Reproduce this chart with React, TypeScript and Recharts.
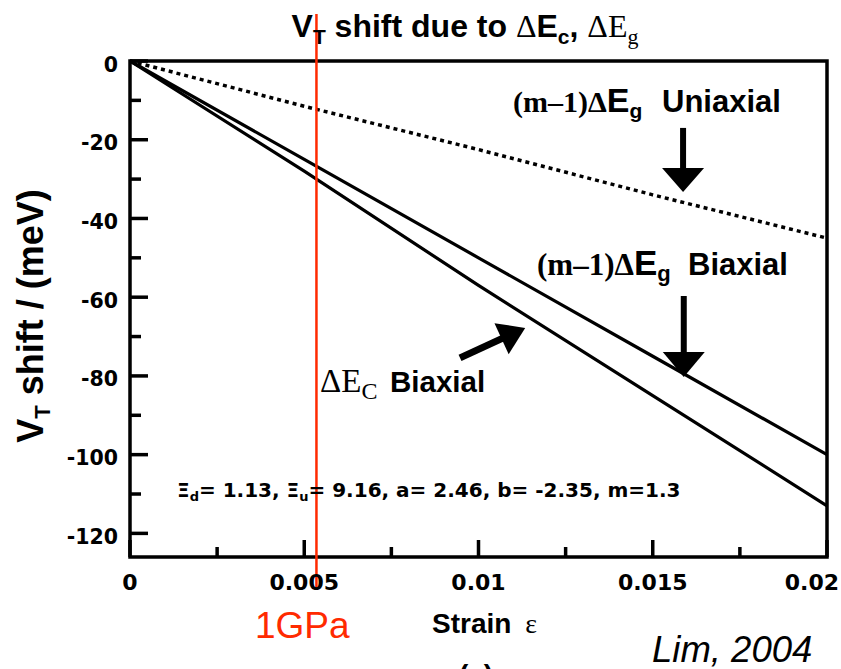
import React from 'react';
import { LineChart, Line, XAxis, YAxis, ReferenceArea, ReferenceLine } from 'recharts';

// ---- data ----
const strain = [0, 0.005, 0.01, 0.015, 0.02];
const uniaxialEg = [0, -11.5, -22.5, -34, -45];
const biaxialEg = [0, -25, -50, -75, -100];
const biaxialEc = [0, -28, -57, -85, -113];

const xTicks = [0, 0.0025, 0.005, 0.0075, 0.01, 0.0125, 0.015, 0.0175, 0.02];
const xMajor = [0, 0.005, 0.01, 0.015, 0.02];
const xMajorLabels = ['0', '0.005', '0.01', '0.015', '0.02'];
const yTicks = [0, -10, -20, -30, -40, -50, -60, -70, -80, -90, -100, -110, -120];
const yMajor = [0, -20, -40, -60, -80, -100, -120];
const yMajorLabels = ['0', '-20', '-40', '-60', '-80', '-100', '-120'];

const strain1GPa = 0.00535;

// arrow annotations in data coordinates: [x1, y1, x2(tip), y2(tip)]
const arrowUni = [0.01587, -17, 0.01587, -33.3];
const arrowEg = [0.01589, -59.7, 0.01589, -80.3];
const arrowEc = [0.00947, -75.4, 0.01134, -67.8];

const rows = strain.map((s, i) => ({
  strain: s,
  uni: uniaxialEg[i],
  eg: biaxialEg[i],
  ec: biaxialEc[i],
}));

const TICK_FONT = '"DejaVu Sans", sans-serif';
const SANS = '"Liberation Sans", Arial, sans-serif';
const SERIF = '"Liberation Serif", "Times New Roman", serif';

const isIn = (arr: number[], v: number) => arr.findIndex((a) => Math.abs(a - v) < 1e-9);

const XTick = (props: any) => {
  const { x, y, payload } = props;
  const idx = isIn(xMajor, payload.value);
  const len = idx >= 0 ? 17 : 10;
  const last = idx === xMajor.length - 1;
  return (
    <g>
      <line x1={x} x2={x} y1={y} y2={y - len} stroke="#000" strokeWidth={3.5} />
      {idx >= 0 && (
        <text
          x={last ? x + 12 : x}
          y={y + 33}
          textAnchor={last ? 'end' : 'middle'}
          fontFamily={TICK_FONT}
          fontWeight="bold"
          fontSize={22}
          fill="#000"
        >
          {xMajorLabels[idx]}
        </text>
      )}
    </g>
  );
};

const YTick = (props: any) => {
  const { x, y, payload } = props;
  const idx = isIn(yMajor, payload.value);
  const len = idx >= 0 ? 18 : 11;
  return (
    <g>
      <line x1={x} x2={x + len} y1={y} y2={y} stroke="#000" strokeWidth={3.5} />
      {idx >= 0 && (
        <text x={x - 12} y={y + 10.5} textAnchor="end" fontFamily={TICK_FONT} fontWeight="bold" fontSize={20.5} fill="#000">
          {yMajorLabels[idx]}
        </text>
      )}
    </g>
  );
};

const makeArrow = (head: number, width: number, shaft: number) => (props: any) => {
  const { x1, y1, x2, y2 } = props;
  const dx = x2 - x1;
  const dy = y2 - y1;
  const len = Math.hypot(dx, dy) || 1;
  const ux = dx / len;
  const uy = dy / len;
  const bx = x2 - ux * head;
  const by = y2 - uy * head;
  const px = (-uy * width) / 2;
  const py = (ux * width) / 2;
  return (
    <g>
      <line x1={x1} y1={y1} x2={bx + ux * 2} y2={by + uy * 2} stroke="#000" strokeWidth={shaft} />
      <polygon points={`${x2},${y2} ${bx + px},${by + py} ${bx - px},${by - py}`} fill="#000" />
    </g>
  );
};

const RedLine = (props: any) => (
  <line x1={props.x1} x2={props.x2} y1={14} y2={590} stroke="#ff2a00" strokeWidth={2.5} />
);

export default function App() {
  return (
    <div style={{ position: 'absolute', left: 0, top: 0, width: 841, height: 669, background: '#fff', overflow: 'hidden' }}>
      <LineChart width={841} height={669} data={rows} margin={{ top: 61, right: 14, bottom: 0, left: 0 }}>
        <XAxis
          dataKey="strain"
          type="number"
          domain={[0, 0.02]}
          ticks={xTicks}
          interval={0}
          height={112}
          tick={(p: any) => <XTick {...p} />}
          tickLine={false}
          axisLine={false}
          tickSize={0}
          tickMargin={0}
        />
        <YAxis
          type="number"
          domain={[-126, 0]}
          ticks={yTicks}
          interval={0}
          width={130}
          tick={(p: any) => <YTick {...p} />}
          tickLine={false}
          axisLine={false}
          tickSize={0}
          tickMargin={0}
        />
        <ReferenceArea x1={0} x2={0.02} y1={-126} y2={0} fill="none" stroke="#000" strokeWidth={3.5} />
        <Line dataKey="uni" stroke="#000" strokeWidth={3.5} strokeDasharray="4 4" dot={false} isAnimationActive={false} />
        <Line dataKey="eg" stroke="#000" strokeWidth={3.2} dot={false} isAnimationActive={false} />
        <Line dataKey="ec" stroke="#000" strokeWidth={3.2} dot={false} isAnimationActive={false} />
        <ReferenceLine
          segment={[{ x: arrowUni[0], y: arrowUni[1] }, { x: arrowUni[2], y: arrowUni[3] }]}
          shape={makeArrow(24, 42, 6)}
        />
        <ReferenceLine
          segment={[{ x: arrowEg[0], y: arrowEg[1] }, { x: arrowEg[2], y: arrowEg[3] }]}
          shape={makeArrow(25, 42, 6)}
        />
        <ReferenceLine
          segment={[{ x: arrowEc[0], y: arrowEc[1] }, { x: arrowEc[2], y: arrowEc[3] }]}
          shape={makeArrow(26, 34, 7)}
        />
        <ReferenceLine x={strain1GPa} shape={RedLine} ifOverflow="visible" />
      </LineChart>
      <svg width={841} height={669} style={{ position: 'absolute', left: 0, top: 0, pointerEvents: 'none' }}>
        {/* title */}
        <text x={465} y={37} textAnchor="middle" fontFamily={SANS} fontWeight="bold" fontSize={32} fill="#000">
          V<tspan fontSize={21} dy={7}>T</tspan>
          <tspan dy={-7}> shift due to </tspan>
          <tspan fontFamily={SERIF} fontWeight="normal">Δ</tspan>
          <tspan>E</tspan>
          <tspan fontSize={21} dy={7}>c</tspan>
          <tspan dy={-7}>, </tspan>
          <tspan fontFamily={SERIF} fontWeight="normal">ΔE</tspan>
          <tspan fontFamily={SERIF} fontWeight="normal" fontSize={22} dy={7}>g</tspan>
        </text>
        {/* y label */}
        <text
          x={43}
          y={316}
          transform="rotate(-90 43 316)"
          textAnchor="middle"
          fontFamily={SANS}
          fontWeight="bold"
          fontSize={36}
          fill="#000"
        >
          V<tspan fontSize={22} dy={7}>T</tspan>
          <tspan dy={-7}> shift / (meV)</tspan>
        </text>
        {/* x label */}
        <text x={432} y={633} fontFamily={SANS} fontWeight="bold" fontSize={28} fill="#000">
          Strain<tspan fontFamily={SERIF} fontWeight="normal" dx={14}>ε</tspan>
        </text>
        {/* uniaxial annotation */}
        <text x={513} y={112} fontFamily={SANS} fontWeight="bold" fontSize={31} fill="#000">
          <tspan fontFamily={SERIF} fontSize={30}>(m–1)Δ</tspan>
          <tspan fontSize={34}>E</tspan>
          <tspan fontSize={21} dy={6}>g</tspan>
          <tspan x={662} dy={-6}>Uniaxial</tspan>
        </text>
        {/* biaxial Eg annotation */}
        <text x={537} y={275} fontFamily={SANS} fontWeight="bold" fontSize={31} fill="#000">
          <tspan fontFamily={SERIF} fontSize={31}>(m–1)Δ</tspan>
          <tspan fontSize={35}>E</tspan>
          <tspan fontSize={22} dy={6}>g</tspan>
          <tspan x={688} dy={-6}>Biaxial</tspan>
        </text>
        {/* biaxial Ec annotation */}
        <text x={320} y={392} fontFamily={SANS} fontWeight="bold" fontSize={29.5} fill="#000">
          <tspan fontFamily={SERIF} fontWeight="normal" fontSize={33}>ΔE</tspan>
          <tspan fontFamily={SERIF} fontWeight="normal" fontSize={24} dy={7}>C</tspan>
          <tspan x={390} dy={-7}>Biaxial</tspan>
        </text>
        {/* parameters */}
        <text x={177} y={497} fontFamily={TICK_FONT} fontWeight="bold" fontSize={20} fill="#000">
          Ξ<tspan fontSize={13} dy={4}>d</tspan>
          <tspan dy={-4}>= 1.13, Ξ</tspan>
          <tspan fontSize={13} dy={4}>u</tspan>
          <tspan dy={-4}>= 9.16,  a= 2.46, b= -2.35, m=1.3</tspan>
        </text>
        {/* 1GPa */}
        <text x={255} y={638} fontFamily={SANS} fontSize={37} fill="#ff2a00">
          1GPa
        </text>
        {/* source */}
        <text x={652} y={662} fontFamily={SANS} fontStyle="italic" fontSize={36.5} fill="#000">
          Lim, 2004
        </text>
        {/* cut-off panel label */}
        <text x={476} y={684} textAnchor="middle" fontFamily={SANS} fontWeight="bold" fontSize={28} fill="#000">
          (a)
        </text>
      </svg>
    </div>
  );
}
